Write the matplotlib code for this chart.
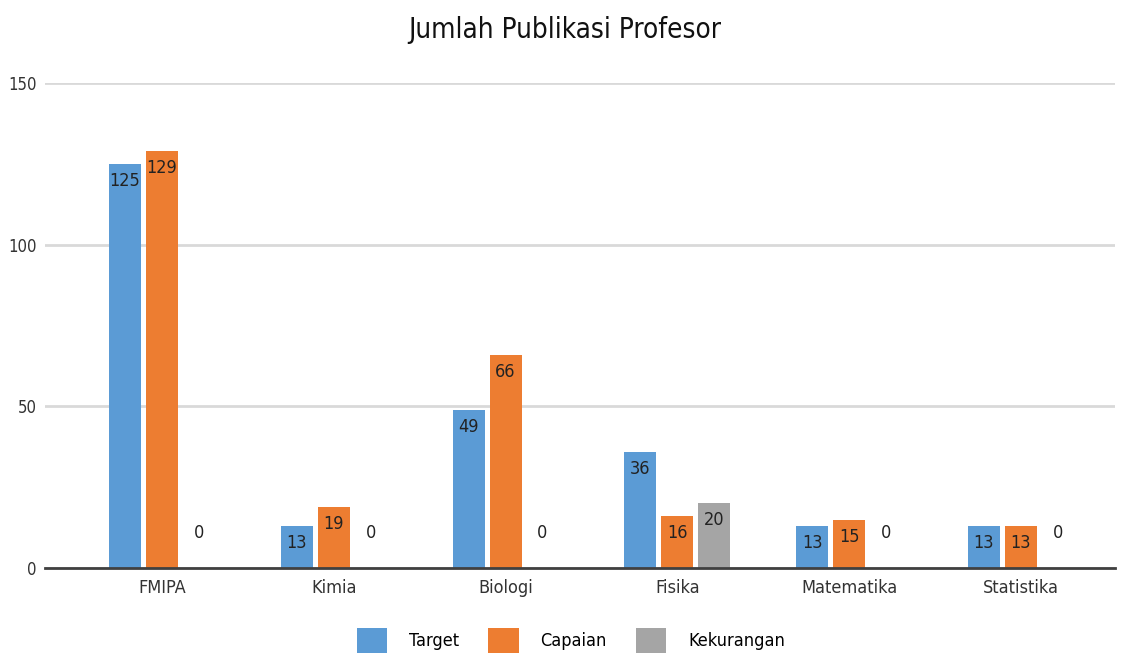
import numpy as np
import matplotlib.pyplot as plt

categories = ["FMIPA", "Kimia", "Biologi", "Fisika", "Matematika", "Statistika"]
target = [125, 13, 49, 36, 13, 13]
capaian = [129, 19, 66, 16, 15, 13]
kekurangan = [0, 0, 0, 20, 0, 0]

series = [("Target", target, "#5B9BD5"),
          ("Capaian", capaian, "#ED7D31"),
          ("Kekurangan", kekurangan, "#A5A5A5")]

plt.rcParams['font.family'] = ['Liberation Sans Narrow', 'DejaVu Sans']
plt.rcParams['font.stretch'] = 'condensed'

fig = plt.figure(figsize=(11.3, 6.59), dpi=100)
ax = fig.add_axes([0.040, 0.138, 0.947, 0.736])

x = np.arange(len(categories))
offset = 0.215
width = 0.186

for i, (name, vals, color) in enumerate(series):
    pos = x + (i - 1) * offset
    bars = ax.bar(pos, vals, width, color=color, label=name, zorder=3)
    for b, v in zip(bars, vals):
        cx = b.get_x() + b.get_width() / 2
        if v == 0:
            ax.text(cx, 8, str(v), ha='center', va='bottom', fontsize=13, color='#222222', zorder=4)
        else:
            ax.text(cx, v - 2.5, str(v), ha='center', va='top', fontsize=13, color='#222222', zorder=4)

ax.set_xlim(-0.68, 5.55)
ax.set_ylim(0, 150)
ax.set_yticks([0, 50, 100, 150])
ax.set_xticks(x)
ax.set_xticklabels(categories, fontsize=13, color='#333333')
ax.tick_params(axis='y', labelsize=12, labelcolor='#333333', length=0, pad=6)
ax.tick_params(axis='x', length=0, pad=8)
ax.grid(axis='y', color='#D9D9D9', linewidth=2, zorder=0)
for s in ['top', 'right', 'left']:
    ax.spines[s].set_visible(False)
ax.spines['bottom'].set_color('#404040')
ax.spines['bottom'].set_linewidth(2)
ax.spines['bottom'].set_zorder(5)

fig.suptitle("Jumlah Publikasi Profesor", fontsize=20, color='#111111', y=0.975)

fig.legend(loc='lower center', bbox_to_anchor=(0.505, -0.015), ncol=3, frameon=False,
           fontsize=13, handlelength=1.7, handleheight=1.7, columnspacing=1.6, handletextpad=1.2)

fig.savefig("out.png", dpi=100)
